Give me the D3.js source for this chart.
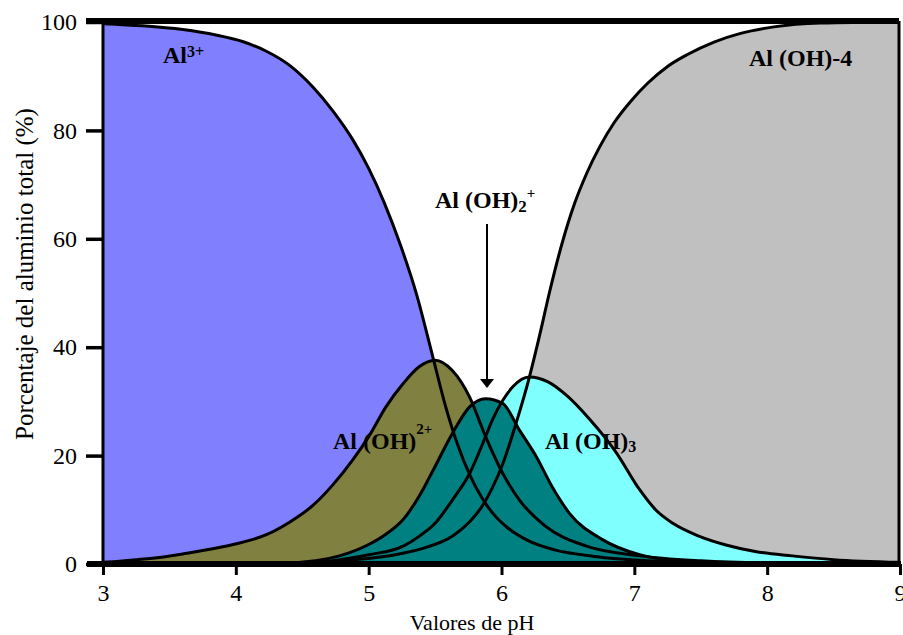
<!DOCTYPE html>
<html>
<head>
<meta charset="utf-8">
<script src="https://cdn.jsdelivr.net/npm/d3@7"></script>
<style>
  body { margin: 0; background: #fff; }
  text { font-family: "Liberation Serif", "Times New Roman", serif; }
</style>
</head>
<body>
<div id="chart"></div>
<script>
// pH / percentage pairs
var al3 = [[3.0, 99.7], [3.3, 99.3], [3.6, 98.6], [3.85, 97.6], [4.05, 96.4], [4.23, 94.6],
  [4.41, 91.9], [4.58, 88.0], [4.73, 83.6], [4.88, 78.3], [5.0, 73.0], [5.12, 66.5],
  [5.24, 58.8], [5.36, 49.8], [5.48, 38.5], [5.58, 29.0], [5.67, 22.0], [5.76, 16.5],
  [5.85, 12.3], [5.94, 9.2], [6.05, 6.6], [6.2, 4.3], [6.4, 2.6], [6.7, 1.4], [7.1, 0.6],
  [7.6, 0.25], [8.2, 0.1], [9.0, 0]];

var alOH = [[3.0, 0.3], [3.25, 0.8], [3.48, 1.4], [3.73, 2.4], [3.98, 3.6], [4.23, 5.4],
  [4.41, 7.8], [4.58, 10.8], [4.73, 14.6], [4.88, 19.2], [5.0, 23.5], [5.13, 29.0],
  [5.26, 33.3], [5.38, 36.4], [5.5, 37.6], [5.63, 35.7], [5.76, 30.8], [5.88, 23.5],
  [6.01, 16.7], [6.135, 11.8], [6.33, 7.0], [6.64, 3.3], [7.04, 1.5], [7.5, 0.6],
  [8.0, 0.2], [9.0, 0]];

var alOH2 = [[3.0, 0], [4.3, 0.1], [4.6, 0.6], [4.78, 1.5], [5.0, 3.6], [5.13, 5.5],
  [5.26, 8.2], [5.38, 12.5], [5.5, 18.0], [5.63, 24.1], [5.76, 29.0], [5.88, 30.5],
  [6.01, 29.6], [6.135, 24.7], [6.26, 19.9], [6.38, 14.3], [6.51, 9.4], [6.76, 4.5],
  [7.04, 1.7], [7.3, 0.6], [7.6, 0.1], [9.0, 0]];

var alOH3 = [[3.0, 0], [4.4, 0.1], [4.7, 0.5], [5.0, 1.7], [5.26, 3.3], [5.38, 5.1],
  [5.5, 7.5], [5.63, 11.8], [5.76, 16.7], [5.88, 23.5], [5.93, 26.5], [6.01, 30.2],
  [6.085, 32.7], [6.21, 34.5], [6.35, 33.6], [6.49, 31.1], [6.66, 26.8], [6.86, 20.7],
  [7.04, 13.7], [7.16, 10.0], [7.29, 7.5], [7.49, 5.1], [7.69, 3.5], [7.91, 2.3],
  [8.19, 1.5], [8.5, 0.8], [9.0, 0.3]];

var alOH4 = [[3.0, 0], [4.0, 0.05], [4.5, 0.25], [4.9, 0.8], [5.2, 1.7], [5.45, 3.2],
  [5.62, 5.0], [5.76, 7.8], [5.85, 10.5], [5.93, 14.0], [6.01, 18.5], [6.11, 26.0],
  [6.21, 34.5], [6.29, 42.5], [6.36, 50.0], [6.46, 59.5], [6.55, 66.5], [6.64, 72.0],
  [6.74, 77.0], [6.85, 81.5], [6.97, 85.3], [7.1, 88.7], [7.25, 91.8], [7.4, 94.0],
  [7.6, 96.3], [7.8, 97.9], [8.05, 99.1], [8.4, 99.8], [9.0, 100]];

var xTicks = [3, 4, 5, 6, 7, 8, 9];
var yTicks = [0, 20, 40, 60, 80, 100];

var width = 903, height = 635;

var svg = d3.select("#chart")
  .append("svg")
  .attr("width", width)
  .attr("height", height);

var x = d3.scaleLinear().domain([3, 9]).range([103, 900]);
var y = d3.scaleLinear().domain([0, 100]).range([564, 22]);

svg.append("clipPath").attr("id", "plot")
  .append("rect")
  .attr("x", x(3)).attr("y", y(100))
  .attr("width", x(9) - x(3)).attr("height", y(0) - y(100));

var area = d3.area()
  .x(function (d) { return x(d[0]); })
  .y0(y(0))
  .y1(function (d) { return y(d[1]); })
  .curve(d3.curveMonotoneX);

var line = d3.line()
  .x(function (d) { return x(d[0]); })
  .y(function (d) { return y(d[1]); })
  .curve(d3.curveMonotoneX);

var plot = svg.append("g").attr("clip-path", "url(#plot)");

// fills, back to front
var fills = [
  { data: al3, color: "#8080ff" },
  { data: alOH4, color: "#c0c0c0" },
  { data: alOH, color: "#808040" },
  { data: alOH3, color: "#80ffff" },
  { data: alOH2, color: "#008080" }
];

fills.forEach(function (f) {
  plot.append("path")
    .datum(f.data)
    .attr("fill", f.color)
    .attr("d", area);
});

fills.forEach(function (f) {
  plot.append("path")
    .datum(f.data)
    .attr("fill", "none")
    .attr("stroke", "#000")
    .attr("stroke-width", 3)
    .attr("d", line);
});

// Y axis
var yAxis = svg.append("g")
  .attr("transform", "translate(" + x(3) + ",0)")
  .attr("font-family", "Liberation Serif, serif")
  .call(d3.axisLeft(y).tickValues(yTicks).tickSize(17).tickPadding(9).tickSizeOuter(0));
yAxis.select(".domain").remove();
yAxis.selectAll("line").attr("stroke-width", 3.5);
yAxis.selectAll("text").style("font-size", "24px").attr("fill", "#000");

// X axis
var xAxis = svg.append("g")
  .attr("transform", "translate(0," + y(0) + ")")
  .attr("font-family", "Liberation Serif, serif")
  .call(d3.axisBottom(x).tickValues(xTicks).tickFormat(d3.format("d"))
    .tickSize(11).tickPadding(9).tickSizeOuter(0));
xAxis.select(".domain").remove();
xAxis.selectAll("line").attr("stroke-width", 3);
xAxis.selectAll("text").style("font-size", "24px").attr("fill", "#000");

// frame
svg.append("line").attr("x1", 86).attr("x2", 899).attr("y1", 21).attr("y2", 21)
  .attr("stroke", "#000").attr("stroke-width", 6);
svg.append("line").attr("x1", 899).attr("x2", 899).attr("y1", 21).attr("y2", y(0))
  .attr("stroke", "#000").attr("stroke-width", 3);
svg.append("line").attr("x1", x(3)).attr("x2", x(3)).attr("y1", 21).attr("y2", y(0))
  .attr("stroke", "#000").attr("stroke-width", 3);
svg.append("line").attr("x1", 87).attr("x2", 901).attr("y1", y(0)).attr("y2", y(0))
  .attr("stroke", "#000").attr("stroke-width", 6);

// axis titles
svg.append("text")
  .attr("x", 472)
  .attr("y", 630)
  .attr("text-anchor", "middle")
  .style("font-size", "22px")
  .text("Valores de pH");

svg.append("text")
  .attr("transform", "translate(33,274) rotate(-90)")
  .attr("text-anchor", "middle")
  .style("font-size", "25px")
  .text("Porcentaje del aluminio total (%)");

// species labels
var lab = svg.append("g")
  .style("font-weight", "bold")
  .style("font-size", "24px");

var t1 = lab.append("text").attr("x", 163).attr("y", 63).text("Al");
t1.append("tspan").style("font-size", "16px").attr("dy", -6).text("3+");

lab.append("text").attr("x", 749).attr("y", 66).text("Al (OH)-4");

var t3 = lab.append("text").attr("x", 435).attr("y", 208).text("Al (OH)");
t3.append("tspan").style("font-size", "17px").attr("dy", 4).text("2");
t3.append("tspan").style("font-size", "15px").attr("dy", -14).text("+");

var t4 = lab.append("text").attr("x", 333).attr("y", 449).text("Al (OH)");
t4.append("tspan").style("font-size", "15px").attr("dy", -15).text("2+");

var t5 = lab.append("text").attr("x", 545).attr("y", 449).text("Al (OH)");
t5.append("tspan").style("font-size", "16px").attr("dy", 3).text("3");

// arrow to the Al(OH)2+ peak
svg.append("line")
  .attr("x1", 487).attr("x2", 487).attr("y1", 224).attr("y2", 381)
  .attr("stroke", "#000").attr("stroke-width", 2);
svg.append("path")
  .attr("d", "M480,379 L494,379 L487,388 Z")
  .attr("fill", "#000");
</script>
</body>
</html>
